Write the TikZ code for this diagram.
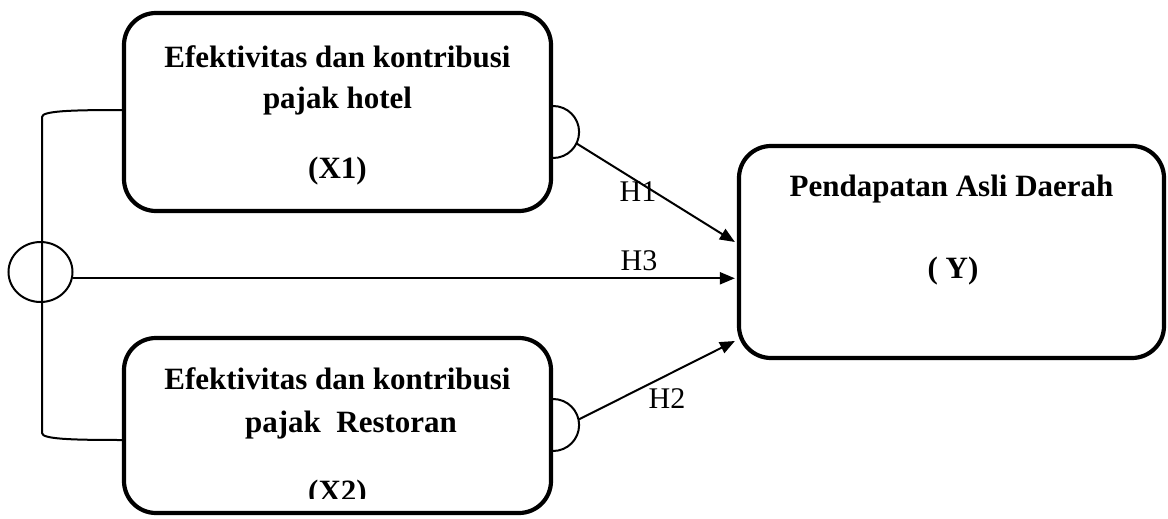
\documentclass[tikz,border=0pt]{standalone}
\usepackage{fontspec}
\setmainfont{Liberation Serif}
\usetikzlibrary{arrows.meta,shapes.geometric}
\begin{document}
\begin{tikzpicture}[x=1pt,y=-1pt,
  box/.style={draw,line width=4.2pt,rounded corners=32pt,inner sep=0pt},
  btext/.style={font=\fontsize{31}{36}\selectfont\bfseries,anchor=base,inner sep=0pt},
  hlabel/.style={font=\fontsize{30}{34}\selectfont,anchor=base,inner sep=0pt},
  conn/.style={line width=2pt},
  arr/.style={conn,-{Triangle[length=15pt,width=12pt]}},
]
\useasboundingbox (0,0) rectangle (1168,519);
% boxes
\node[box,minimum width=427pt,minimum height=198pt] (x1) at (337.5,112) {};
\node[box,minimum width=427pt,minimum height=175pt] (x2) at (337.5,425.5) {};
\node[box,minimum width=425pt,minimum height=212pt] (y) at (951.5,252) {};
% texts
\node[btext] (t1a) at (337.5,68) {Efektivitas dan kontribusi};
\node[btext] (t1b) at (337.5,108) {pajak hotel};
\node[btext] (t1c) at (337.5,178) {(X1)};
\node[btext] (t2a) at (337.5,389) {Efektivitas dan kontribusi};
\node[btext] (t2b) at (351,432) {pajak\ \ Restoran};
\begin{scope}
  \clip (100,400) rectangle (600,498);
  \node[btext] (t2c) at (337.5,501) {(X2)};
\end{scope}
\node[btext] (tya) at (951.5,196) {Pendapatan Asli Daerah};
\node[btext] (tyb) at (953,278) {( Y)};
% circle
\node[ellipse,draw,line width=2pt,minimum width=64pt,minimum height=60pt,inner sep=0pt] (c) at (40.5,272) {};
% bracket
\draw[conn] (x1.west |- 0,110) .. controls (70,110) and (42,111) .. (42,117)
  -- (42,433) .. controls (42,439) and (70,440) .. (x2.west |- 0,440);
% semicircles
\coordinate (s1) at (x1.east |- 0,132);
\coordinate (s2) at (x2.east |- 0,425);
\draw[conn] (s1) ++(0,-26) arc(-90:90:26);
\draw[conn] (s2) ++(0,-26) arc(-90:90:26);
\coordinate (h1s) at ([shift={(26:26)}]s1);
\coordinate (h2s) at ([shift={(-12:26)}]s2);
\coordinate (h1e) at ([shift={(-2,-10)}]y.west);
\coordinate (h2e) at ([shift={(-2,89)}]y.west);
\coordinate (h3e) at ([xshift=-2pt]y.west |- c.-11);
% arrows
\draw[arr] (h1s) -- (h1e);
\draw[arr] (c.-11) -- (h3e);
\draw[arr] (h2s) -- (h2e);
% labels
\node[hlabel] (l1) at (638,201) {H1};
\node[hlabel] (l3) at (639,270) {H3};
\node[hlabel] (l2) at (667,408) {H2};
\end{tikzpicture}
\end{document}
